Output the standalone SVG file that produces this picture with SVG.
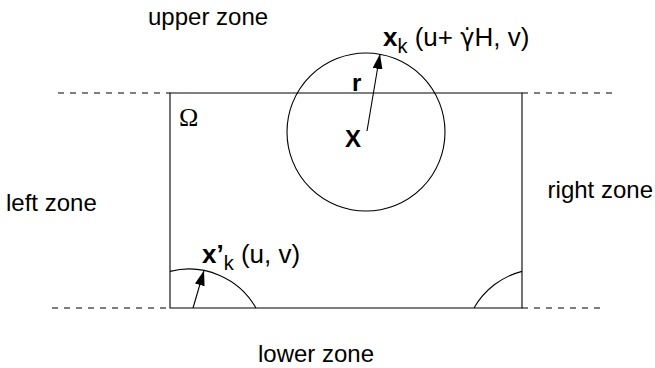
<svg xmlns="http://www.w3.org/2000/svg" width="655" height="368" viewBox="0 0 655 368">
<defs>
<style>
.ln{stroke:#000;stroke-width:1.1;fill:none}
.dash{stroke:#000;stroke-width:1.1;fill:none;stroke-dasharray:6 6}
.t{font-family:"Liberation Sans",Arial,sans-serif;font-size:24px;fill:#000}
.lab{font-size:26px}
.b{font-weight:bold}
.sub{font-size:20px}
.g{font-family:"DejaVu Sans",sans-serif;font-size:24px}
.om{font-family:"Liberation Serif","Times New Roman",serif;font-size:26px;fill:#000}
</style>
<marker id="ah" markerUnits="userSpaceOnUse" markerWidth="16" markerHeight="10" refX="15" refY="5" orient="auto">
<path d="M0,0 L15,5 L0,10 z" fill="#000"/>
</marker>
</defs>
<rect width="655" height="368" fill="#fff"/>
<g id="domain">
<path class="ln" d="M170,93 H522 V308 H170 Z"/>
<path class="dash" d="M58,93 H170 M522,93 H612 M52,308 H170 M522,308 H603"/>
<text class="om" x="179" y="126">Ω</text>
</g>
<g id="circle-main">
<circle class="ln" cx="366" cy="132" r="79"/>
<text class="t b" x="345" y="147">X</text>
<text class="t b" x="352" y="91">r</text>
</g>
<g id="arc-lower-left">
<path class="ln" d="M170,271.4 A77,77 0 0 1 256,308"/>
</g>
<g id="arc-lower-right">
<path class="ln" d="M474,308 A77,77 0 0 1 522,271.4"/>
</g>
<g id="connectors">
<line class="ln" x1="367" y1="131" x2="380" y2="54" marker-end="url(#ah)"/>
<line class="ln" x1="193" y1="308" x2="204" y2="270.5" marker-end="url(#ah)"/>
</g>
<g id="labels">
<text class="t" x="148" y="25">upper zone</text>
<text class="t" x="258" y="362">lower zone</text>
<text class="t" x="6" y="211">left zone</text>
<text class="t" x="653" y="198" text-anchor="end">right zone</text>
<text class="t lab" x="383" y="46"><tspan class="b">x</tspan><tspan class="sub" dy="7">k</tspan><tspan dy="-7"> (u+ </tspan><tspan class="g">γ̇</tspan><tspan>H, v)</tspan></text>
<text class="t lab" x="202" y="263"><tspan class="b">x’</tspan><tspan class="sub" dy="7">k</tspan><tspan dy="-7"> (u, v)</tspan></text>
</g>
</svg>
